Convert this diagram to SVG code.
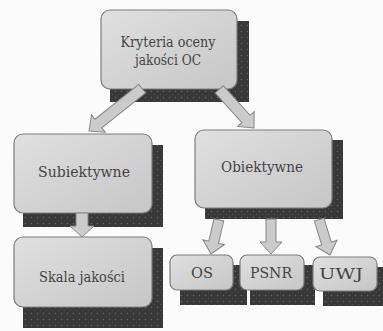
<svg xmlns="http://www.w3.org/2000/svg" width="383" height="331" viewBox="0 0 383 331">
<defs>
<linearGradient id="boxg" x1="0" y1="0" x2="1" y2="1">
<stop offset="0" stop-color="#e0e0e0"/>
<stop offset="1" stop-color="#c6c6c6"/>
</linearGradient>
<pattern id="shp" width="6" height="6" patternUnits="userSpaceOnUse">
<rect width="6" height="6" fill="#383838"/>
<circle cx="1.5" cy="1.5" r="0.8" fill="#666"/>
<circle cx="4.5" cy="4.5" r="0.6" fill="#505050"/>
</pattern>
</defs>
<style>
.box{fill:url(#boxg);stroke:#7c7c7c;stroke-width:1.2}
.sh{fill:url(#shp)}
.t{font-family:'DejaVu Serif',serif;font-size:14.5px;fill:#444;text-anchor:middle}
.a{fill:#cbcbcb;stroke:#868686;stroke-width:1}
</style>
<rect width="383" height="331" fill="#fbfbfb"/>

<g id="node-kryteria">
<rect class="sh" x="110" y="21" width="139" height="81"/>
<rect class="box" x="101" y="10" width="136" height="79" rx="9"/>
<text class="t" x="168" y="47" textLength="95" lengthAdjust="spacingAndGlyphs">Kryteria oceny</text>
<text class="t" x="168" y="65" textLength="66" lengthAdjust="spacingAndGlyphs">jakości OC</text>
</g>

<g id="node-subiektywne">
<rect class="sh" x="23" y="145" width="140" height="82"/>
<rect class="box" x="14" y="134" width="138" height="79" rx="9"/>
<text class="t" x="84" y="177" textLength="92" lengthAdjust="spacingAndGlyphs">Subiektywne</text>
</g>

<g id="node-obiektywne">
<rect class="sh" x="205" y="140" width="138" height="79"/>
<rect class="box" x="195" y="130" width="137" height="78" rx="9"/>
<text class="t" x="262" y="172" textLength="82" lengthAdjust="spacingAndGlyphs">Obiektywne</text>
</g>

<g id="node-skala">
<rect class="sh" x="23" y="248" width="140" height="80"/>
<rect class="box" x="14" y="237" width="138" height="70" rx="9"/>
<text class="t" x="82" y="282" textLength="86" lengthAdjust="spacingAndGlyphs">Skala jakości</text>
</g>

<g id="node-os">
<rect class="sh" x="180" y="265" width="67" height="40"/>
<rect class="box" x="170" y="255" width="63" height="35" rx="7"/>
<text class="t" x="202" y="278" textLength="22" lengthAdjust="spacingAndGlyphs">OS</text>
</g>

<g id="node-psnr">
<rect class="sh" x="250" y="265" width="65" height="40"/>
<rect class="box" x="240" y="255" width="64" height="35" rx="7"/>
<text class="t" x="271" y="278" textLength="42" lengthAdjust="spacingAndGlyphs">PSNR</text>
</g>

<g id="node-uwj">
<rect class="sh" x="323" y="267" width="60" height="39"/>
<rect class="box" x="313" y="257" width="64" height="34" rx="7"/>
<text class="t" x="341" y="279" textLength="44" lengthAdjust="spacingAndGlyphs">UWJ</text>
</g>

<g id="connectors">
<path class="a" d="M0,0 L-11,-12 L-5.5,-12 L-5.5,-68 L5.5,-68 L5.5,-12 L11,-12 Z" transform="translate(89,131) rotate(51.5)"/>
<path class="a" d="M0,0 L-11,-12 L-5.5,-12 L-5.5,-52 L5.5,-52 L5.5,-12 L11,-12 Z" transform="translate(254,128) rotate(-41.9)"/>
<path class="a" d="M0,0 L-12,-11 L-6,-11 L-6,-24 L6,-24 L6,-11 L12,-11 Z" transform="translate(82,237)"/>
<path class="a" d="M0,0 L-11,-12 L-5,-12 L-5,-35 L5,-35 L5,-12 L11,-12 Z" transform="translate(211,254) rotate(12.9)"/>
<path class="a" d="M0,0 L-11,-12 L-5,-12 L-5,-35 L5,-35 L5,-12 L11,-12 Z" transform="translate(271,254)"/>
<path class="a" d="M0,0 L-11,-12 L-5,-12 L-5,-37 L5,-37 L5,-12 L11,-12 Z" transform="translate(330,255) rotate(-17)"/>
</g>
</svg>
